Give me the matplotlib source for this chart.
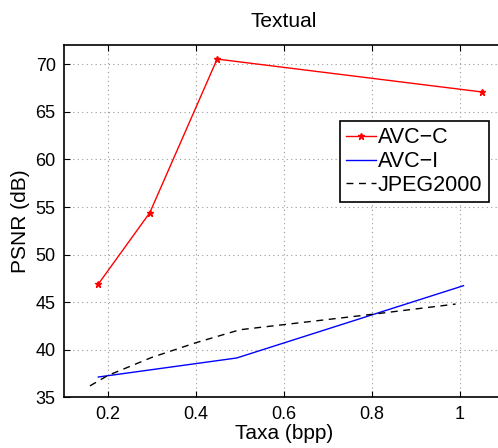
import matplotlib
matplotlib.use("Agg")
import matplotlib.pyplot as plt

plt.rcParams['font.family'] = ['Liberation Sans', 'DejaVu Sans']

# rate (bpp) vs PSNR (dB)
avc_c_x = [0.178, 0.295, 0.448, 1.049]
avc_c_y = [46.9, 54.4, 70.55, 67.1]

avc_i_x = [0.178, 0.4925, 1.008]
avc_i_y = [37.13, 39.13, 46.73]

jpeg_x = [0.159, 0.2, 0.3, 0.4, 0.5, 0.8, 0.99]
jpeg_y = [36.2, 37.3, 39.2, 40.74, 42.1, 43.72, 44.8]

xticks = [0.2, 0.4, 0.6, 0.8, 1.0]
xticklabels = ["0.2", "0.4", "0.6", "0.8", "1"]
yticks = [35, 40, 45, 50, 55, 60, 65, 70]

fig = plt.figure(figsize=(4.98, 4.48), dpi=100)
ax = fig.add_axes([0.1285, 0.1132, 0.8835, 0.7857])

ax.plot(avc_c_x, avc_c_y, color="red", lw=1.0, marker="*", ms=5, label="AVC\u2212C")
ax.plot(avc_i_x, avc_i_y, color="blue", lw=1.0, label="AVC\u2212I")
ax.plot(jpeg_x, jpeg_y, color="black", lw=1.0, ls=(0, (5, 4)), label="JPEG2000")

ax.set_xlim(0.1, 1.1)
ax.set_ylim(35, 72)
ax.set_xticks(xticks)
ax.set_xticklabels(xticklabels)
ax.set_yticks(yticks)
ax.tick_params(direction="in", top=True, right=True, labelsize=13, length=4, pad=6)
ax.grid(True, ls=(0, (1, 3)), color="#999999", lw=0.8)
for s in ax.spines.values():
    s.set_linewidth(1.2)

ax.set_title("Textual", fontsize=15, pad=13)
ax.set_xlabel("Taxa (bpp)", fontsize=15, labelpad=1)
ax.set_ylabel("PSNR (dB)", fontsize=15, labelpad=4)

leg = ax.legend(loc="upper left", bbox_to_anchor=(0.6827, 0.7299),
                bbox_transform=fig.transFigure, fontsize=15.5, fancybox=False,
                framealpha=1, edgecolor="black", handlelength=1.35,
                borderpad=0.3, labelspacing=0.12, handletextpad=0.12,
                borderaxespad=0)
leg.get_frame().set_linewidth(1.2)

fig.savefig("out.png", dpi=100)
